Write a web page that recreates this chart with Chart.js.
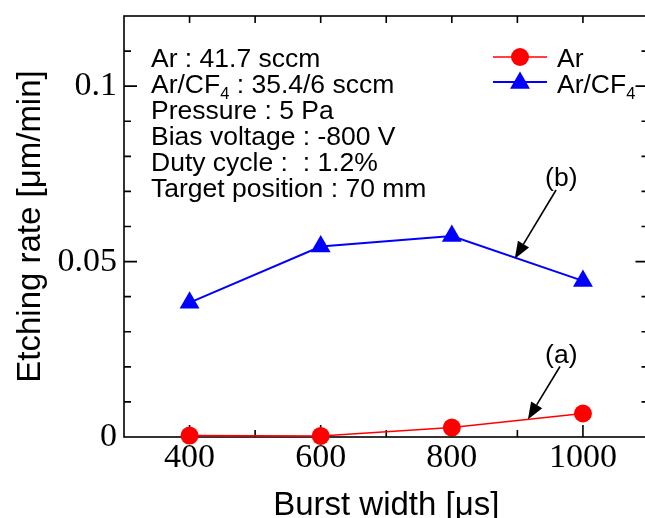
<!DOCTYPE html>
<html>
<head>
<meta charset="utf-8">
<script src="https://cdn.jsdelivr.net/npm/chart.js@4.4.0/dist/chart.umd.min.js"></script>
<style>
  html, body { margin: 0; padding: 0; overflow: hidden; background: #fff; }
  canvas { display: block; }
</style>
</head>
<body>
<canvas id="chart" width="660" height="518"></canvas>
<script>
// data
const burstWidths = [400, 600, 800, 1000];
const rateAr = [0.0004, 0.0003, 0.0027, 0.0067];
const rateArCF4 = [0.0383, 0.0543, 0.0573, 0.0445];
const xTickLabels = [400, 600, 800, 1000];
const yTickLabels = { 0: '0', 5: '0.05', 10: '0.1' }; // keyed by value*100
const infoLines = [
  'Ar : 41.7 sccm',
  'Ar/CF_4 : 35.4/6 sccm',
  'Pressure : 5 Pa',
  'Bias voltage : -800 V',
  'Duty cycle :  : 1.2%',
  'Target position : 70 mm'
];
// (a)/(b) callouts, in data units
const callouts = [
  { text: '(a)', at: [967, 0.0232], from: [965, 0.0201], to: [916, 0.0050] },
  { text: '(b)', at: [967, 0.0737], from: [959, 0.0704], to: [896, 0.0508] }
];

const SANS = '"Liberation Sans", Arial, sans-serif';
const SERIF = '"Liberation Serif", "Times New Roman", serif';

// text with "_4" style subscripts
function drawSubText(ctx, str, x, y, size) {
  const parts = str.split(/_(\d)/);
  parts.forEach((p, i) => {
    if (i % 2 === 1) {
      ctx.font = (size * 0.62) + 'px ' + SANS;
      ctx.fillText(p, x, y + size * 0.22);
    } else {
      ctx.font = size + 'px ' + SANS;
      ctx.fillText(p, x, y);
    }
    x += ctx.measureText(p).width;
  });
}

function triangle(ctx, x, y, r) {
  ctx.beginPath();
  for (let k = 0; k < 3; k++) {
    const a = -Math.PI / 2 + k * 2 * Math.PI / 3;
    const px = x + Math.cos(a) * r, py = y + Math.sin(a) * r;
    k ? ctx.lineTo(px, py) : ctx.moveTo(px, py);
  }
  ctx.closePath();
  ctx.fill();
}

const frameTicks = {
  id: 'frameTicks',
  beforeDatasetsDraw(chart) {
    const { ctx, chartArea: { left, right, top, bottom }, scales: { x, y } } = chart;
    ctx.save();
    ctx.strokeStyle = '#000';
    ctx.lineWidth = 1.6;
    ctx.strokeRect(left, top, right - left, bottom - top);
    ctx.beginPath();
    x.ticks.forEach(t => {
      if (t.value <= x.min || t.value >= x.max) return;
      const px = x.getPixelForValue(t.value);
      const major = xTickLabels.includes(t.value);
      ctx.moveTo(px, bottom); ctx.lineTo(px, bottom - (major ? 12 : 7));
      ctx.moveTo(px, top); ctx.lineTo(px, top + 7);
    });
    y.ticks.forEach(t => {
      if (t.value <= y.min + 1e-9 || t.value >= y.max - 1e-9) return;
      const py = y.getPixelForValue(t.value);
      const major = yTickLabels[Math.round(t.value * 100)] !== undefined;
      const len = major ? 13 : 7;
      ctx.moveTo(left, py); ctx.lineTo(left + len, py);
      ctx.moveTo(right, py); ctx.lineTo(right - len, py);
    });
    ctx.stroke();
    ctx.restore();
  },
  afterDatasetsDraw(chart) {
    const { ctx, chartArea: { left, top }, scales: { x, y } } = chart;
    ctx.save();
    ctx.fillStyle = '#000';
    ctx.textBaseline = 'alphabetic';
    ctx.textAlign = 'left';
    // condition block
    infoLines.forEach((line, i) => drawSubText(ctx, line, left + 27, top + 51 + i * 26, 26.5));

    // legend
    const lx = left + 369;
    ctx.lineWidth = 1.6;
    ctx.strokeStyle = '#ff0000';
    ctx.beginPath(); ctx.moveTo(lx, top + 41); ctx.lineTo(lx + 54, top + 41); ctx.stroke();
    ctx.fillStyle = '#ff0000';
    ctx.beginPath(); ctx.arc(lx + 27, top + 41, 9, 0, Math.PI * 2); ctx.fill();
    ctx.strokeStyle = '#0000ff';
    ctx.lineWidth = 2;
    ctx.beginPath(); ctx.moveTo(lx, top + 66); ctx.lineTo(lx + 54, top + 66); ctx.stroke();
    ctx.fillStyle = '#0000ff';
    triangle(ctx, lx + 27, top + 67, 11.5);
    ctx.fillStyle = '#000';
    drawSubText(ctx, 'Ar', lx + 64, top + 51, 26.5);
    drawSubText(ctx, 'Ar/CF_4', lx + 64, top + 77, 26.5);

    // callouts with arrows
    callouts.forEach(c => {
      ctx.fillStyle = '#000';
      ctx.strokeStyle = '#000';
      ctx.font = '26.5px ' + SANS;
      ctx.textAlign = 'center';
      ctx.textBaseline = 'middle';
      ctx.fillText(c.text, x.getPixelForValue(c.at[0]), y.getPixelForValue(c.at[1]));
      const x0 = x.getPixelForValue(c.from[0]), y0 = y.getPixelForValue(c.from[1]);
      const x1 = x.getPixelForValue(c.to[0]), y1 = y.getPixelForValue(c.to[1]);
      const ang = Math.atan2(y1 - y0, x1 - x0);
      const hl = 17, hw = 6.5;
      const bx = x1 - Math.cos(ang) * hl, by = y1 - Math.sin(ang) * hl;
      ctx.lineWidth = 1.6;
      ctx.beginPath(); ctx.moveTo(x0, y0); ctx.lineTo(bx, by); ctx.stroke();
      ctx.beginPath();
      ctx.moveTo(x1, y1);
      ctx.lineTo(bx + Math.sin(ang) * hw, by - Math.cos(ang) * hw);
      ctx.lineTo(bx - Math.sin(ang) * hw, by + Math.cos(ang) * hw);
      ctx.closePath();
      ctx.fill();
    });
    ctx.restore();
  }
};

new Chart(document.getElementById('chart').getContext('2d'), {
  type: 'line',
  data: {
    datasets: [
      {
        label: 'Ar',
        data: burstWidths.map((b, i) => ({ x: b, y: rateAr[i] })),
        borderColor: '#ff0000',
        backgroundColor: '#ff0000',
        borderWidth: 1.6,
        pointStyle: 'circle',
        pointRadius: 9,
        pointBorderWidth: 0,
        clip: false
      },
      {
        label: 'Ar/CF4',
        data: burstWidths.map((b, i) => ({ x: b, y: rateArCF4[i] })),
        borderColor: '#0000ff',
        backgroundColor: '#0000ff',
        borderWidth: 2,
        pointStyle: 'triangle',
        pointRadius: 11.5,
        pointBorderWidth: 0,
        clip: false
      }
    ]
  },
  options: {
    responsive: false,
    animation: false,
    events: [],
    layout: { padding: { top: 16, right: 2, left: 0, bottom: 0 } },
    plugins: { legend: { display: false }, tooltip: { enabled: false } },
    scales: {
      x: {
        type: 'linear',
        min: 300,
        max: 1100,
        afterFit: s => { s.height = 81; s.paddingLeft = 0; s.paddingRight = 0; },
        grid: { display: false, drawTicks: false },
        border: { display: false },
        ticks: {
          stepSize: 100,
          padding: 1,
          color: '#000',
          font: { family: SERIF, size: 34, lineHeight: 1.2 },
          maxRotation: 0,
          autoSkip: false,
          callback: v => xTickLabels.includes(v) ? String(v) : ''
        },
        title: {
          display: true,
          text: 'Burst width [\u03bcs]',
          color: '#000',
          font: { family: SANS, size: 33, lineHeight: 1 },
          padding: { top: 0, bottom: -4.5 }
        }
      },
      y: {
        min: 0,
        max: 0.12,
        afterFit: s => { s.width = 124; s.paddingTop = 0; s.paddingBottom = 0; },
        grid: { display: false, drawTicks: false },
        border: { display: false },
        ticks: {
          stepSize: 0.01,
          padding: 7,
          color: '#000',
          font: { family: SERIF, size: 34, lineHeight: 1.2 },
          autoSkip: false,
          callback: v => yTickLabels[Math.round(v * 100)] ?? ''
        },
        title: {
          display: true,
          text: 'Etching rate [\u03bcm/min]',
          color: '#000',
          font: { family: SANS, size: 33, lineHeight: 1 },
          padding: { top: 14, bottom: 0 }
        }
      }
    }
  },
  plugins: [frameTicks]
});
</script>
</body>
</html>
